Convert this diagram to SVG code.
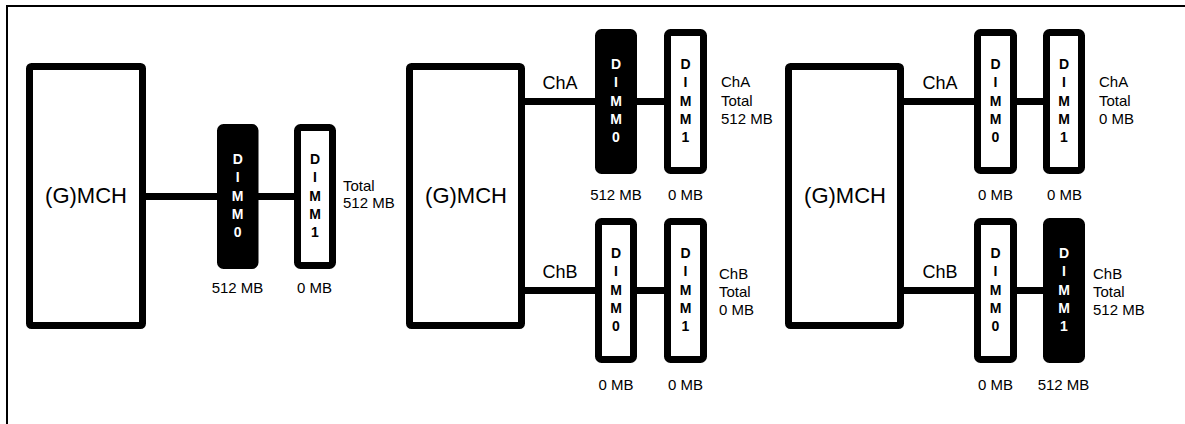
<svg xmlns="http://www.w3.org/2000/svg" width="1185" height="424" viewBox="0 0 1185 424">
<style>
.frame{fill:none;stroke:#000;stroke-width:2}
.mch{fill:#fff;stroke:#000;stroke-width:7}
.dimm{fill:#fff;stroke:#000;stroke-width:7}
.dimm.on{fill:#000}
.wire{stroke:#000;stroke-width:7;fill:none}
text{font-family:"Liberation Sans",Arial,sans-serif;fill:#000}
.big{font-size:22px;text-anchor:middle}
.ch{font-size:18px;text-anchor:middle}
.lbl{font-size:15px}
.mb{font-size:15px;text-anchor:middle}
.let{font-size:14px;font-weight:bold;text-anchor:middle}
.on-t{fill:#fff}
</style>
<rect width="1185" height="424" fill="#fff"/>
<path class="frame" d="M7,430 V6 H1190"/>

<g id="connectors">
<line class="wire" x1="146" y1="196.5" x2="217" y2="196.5"/>
<line class="wire" x1="258" y1="196.5" x2="294" y2="196.5"/>
<line class="wire" x1="525" y1="101.5" x2="595" y2="101.5"/>
<line class="wire" x1="637" y1="101.5" x2="664" y2="101.5"/>
<line class="wire" x1="525" y1="290.5" x2="595" y2="290.5"/>
<line class="wire" x1="637" y1="290.5" x2="664" y2="290.5"/>
<line class="wire" x1="904" y1="101.5" x2="974" y2="101.5"/>
<line class="wire" x1="1017" y1="101.5" x2="1043" y2="101.5"/>
<line class="wire" x1="904" y1="290.5" x2="974" y2="290.5"/>
<line class="wire" x1="1017" y1="290.5" x2="1043" y2="290.5"/>
</g>

<!-- Panel 1 -->
<g id="p1-mch">
<rect class="mch" x="29.5" y="66.5" width="113" height="259" rx="2"/>
<text class="big" x="86" y="203">(G)MCH</text>
</g>
<g id="p1-dimm0">
<rect class="dimm on" x="220.5" y="127.5" width="34.5" height="138" rx="3"/>
<g class="let"><text class="on-t" x="237.7" y="164">D</text><text class="on-t" x="237.7" y="182">I</text><text class="on-t" x="237.7" y="201">M</text><text class="on-t" x="237.7" y="219">M</text><text class="on-t" x="237.7" y="237">0</text></g>
<text class="mb" x="237.5" y="293">512 MB</text>
</g>
<g id="p1-dimm1">
<rect class="dimm" x="297.5" y="127.5" width="35" height="138" rx="3"/>
<g class="let"><text x="315" y="164">D</text><text x="315" y="182">I</text><text x="315" y="201">M</text><text x="315" y="219">M</text><text x="315" y="237">1</text></g>
<text class="mb" x="314.5" y="293">0 MB</text>
</g>
<g id="p1-total">
<text class="lbl" x="343" y="191">Total</text>
<text class="lbl" x="343" y="208">512 MB</text>
</g>

<!-- Panel 2 -->
<g id="p2-mch">
<rect class="mch" x="409.5" y="66.5" width="112" height="259" rx="2"/>
<text class="big" x="466" y="203">(G)MCH</text>
</g>
<text class="ch" x="560" y="89">ChA</text>
<text class="ch" x="560" y="278">ChB</text>
<g id="p2-a-dimm0">
<rect class="dimm on" x="598.5" y="32.5" width="35" height="138" rx="3"/>
<g class="let"><text class="on-t" x="616" y="69">D</text><text class="on-t" x="616" y="87">I</text><text class="on-t" x="616" y="106">M</text><text class="on-t" x="616" y="124">M</text><text class="on-t" x="616" y="142">0</text></g>
<text class="mb" x="616" y="200">512 MB</text>
</g>
<g id="p2-a-dimm1">
<rect class="dimm" x="667.5" y="32.5" width="36" height="138" rx="3"/>
<g class="let"><text x="685.5" y="69">D</text><text x="685.5" y="87">I</text><text x="685.5" y="106">M</text><text x="685.5" y="124">M</text><text x="685.5" y="142">1</text></g>
<text class="mb" x="685.5" y="200">0 MB</text>
</g>
<g id="p2-a-total">
<text class="lbl" x="721" y="87">ChA</text>
<text class="lbl" x="721" y="106">Total</text>
<text class="lbl" x="721" y="124">512 MB</text>
</g>
<g id="p2-b-dimm0">
<rect class="dimm" x="598.5" y="221.5" width="35" height="138" rx="3"/>
<g class="let"><text x="616" y="258">D</text><text x="616" y="276">I</text><text x="616" y="295">M</text><text x="616" y="313">M</text><text x="616" y="331">0</text></g>
<text class="mb" x="616" y="390">0 MB</text>
</g>
<g id="p2-b-dimm1">
<rect class="dimm" x="667.5" y="221.5" width="36" height="138" rx="3"/>
<g class="let"><text x="685.5" y="258">D</text><text x="685.5" y="276">I</text><text x="685.5" y="295">M</text><text x="685.5" y="313">M</text><text x="685.5" y="331">1</text></g>
<text class="mb" x="685.5" y="390">0 MB</text>
</g>
<g id="p2-b-total">
<text class="lbl" x="719" y="279">ChB</text>
<text class="lbl" x="719" y="297">Total</text>
<text class="lbl" x="719" y="315">0 MB</text>
</g>

<!-- Panel 3 -->
<g id="p3-mch">
<rect class="mch" x="788.5" y="66.5" width="112" height="259" rx="2"/>
<text class="big" x="845" y="203">(G)MCH</text>
</g>
<text class="ch" x="940" y="89">ChA</text>
<text class="ch" x="940" y="278">ChB</text>
<g id="p3-a-dimm0">
<rect class="dimm" x="977.5" y="32.5" width="36" height="138" rx="3"/>
<g class="let"><text x="995.5" y="69">D</text><text x="995.5" y="87">I</text><text x="995.5" y="106">M</text><text x="995.5" y="124">M</text><text x="995.5" y="142">0</text></g>
<text class="mb" x="995.5" y="200">0 MB</text>
</g>
<g id="p3-a-dimm1">
<rect class="dimm" x="1046.5" y="32.5" width="35" height="138" rx="3"/>
<g class="let"><text x="1064" y="69">D</text><text x="1064" y="87">I</text><text x="1064" y="106">M</text><text x="1064" y="124">M</text><text x="1064" y="142">1</text></g>
<text class="mb" x="1064.5" y="200">0 MB</text>
</g>
<g id="p3-a-total">
<text class="lbl" x="1099" y="87">ChA</text>
<text class="lbl" x="1099" y="106">Total</text>
<text class="lbl" x="1099" y="124">0 MB</text>
</g>
<g id="p3-b-dimm0">
<rect class="dimm" x="977.5" y="221.5" width="36" height="138" rx="3"/>
<g class="let"><text x="995.5" y="258">D</text><text x="995.5" y="276">I</text><text x="995.5" y="295">M</text><text x="995.5" y="313">M</text><text x="995.5" y="331">0</text></g>
<text class="mb" x="995.5" y="390">0 MB</text>
</g>
<g id="p3-b-dimm1">
<rect class="dimm on" x="1046.5" y="221.5" width="35" height="138" rx="3"/>
<g class="let"><text class="on-t" x="1064" y="258">D</text><text class="on-t" x="1064" y="276">I</text><text class="on-t" x="1064" y="295">M</text><text class="on-t" x="1064" y="313">M</text><text class="on-t" x="1064" y="331">1</text></g>
<text class="mb" x="1063.5" y="390">512 MB</text>
</g>
<g id="p3-b-total">
<text class="lbl" x="1093" y="279">ChB</text>
<text class="lbl" x="1093" y="297">Total</text>
<text class="lbl" x="1093" y="315">512 MB</text>
</g>
</svg>
